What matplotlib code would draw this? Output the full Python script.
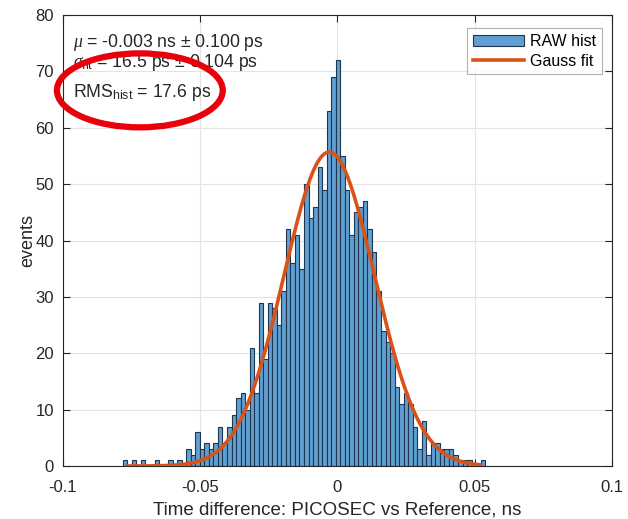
import numpy as np
import matplotlib
matplotlib.use("Agg")
import matplotlib.pyplot as plt
from matplotlib.patches import Ellipse

# Time-difference histogram (ns): 80 bins of 1.65 ps starting at -78.2 ps
bin_start = -0.0782
bin_width = 0.00165
counts = [
    1, 0, 1, 0, 1, 0, 0, 1, 0, 0,
    1, 0, 1, 0, 3, 2, 6, 3, 4, 3,
    4, 7, 4, 7, 9, 12, 13, 10, 21, 13,
    29, 19, 29, 28, 25, 31, 42, 36, 41, 35,
    50, 44, 46, 53, 49, 63, 69, 72, 55, 49,
    41, 45, 46, 47, 42, 38, 31, 24, 22, 20,
    14, 11, 13, 11, 7, 3, 8, 2, 4, 4,
    3, 3, 3, 2, 1, 1, 1, 0, 0, 1,
]

# Gaussian fit parameters
fit_mu = -0.003      # ns
fit_sigma = 0.0165   # ns
fit_amp = 55.7       # events

stat_lines = [
    r"$\mu$ = -0.003 ns $\pm$ 0.100 ps",
    r"$\sigma_{\mathrm{fit}}$ = 16.5 ps $\pm$ 0.104 ps",
    r"RMS$_{\mathrm{hist}}$ = 17.6 ps",
]
stat_baselines = [0.929, 0.885, 0.818]  # axes fraction

x_ticks = [-0.1, -0.05, 0, 0.05, 0.1]
x_tick_labels = ["-0.1", "-0.05", "0", "0.05", "0.1"]
y_ticks = [0, 10, 20, 30, 40, 50, 60, 70, 80]

plt.rcParams["font.family"] = ["Liberation Sans", "DejaVu Sans"]
plt.rcParams["mathtext.fontset"] = "custom"
plt.rcParams["mathtext.rm"] = "Liberation Sans"
plt.rcParams["mathtext.it"] = "Liberation Serif:italic"

fig = plt.figure(figsize=(6.28, 5.19), dpi=100)
ax = fig.add_axes([0.1003, 0.1021, 0.8742, 0.8689])

edges = bin_start + bin_width * np.arange(len(counts) + 1)
centers = 0.5 * (edges[:-1] + edges[1:])
ax.hist(centers, bins=edges, weights=counts, color="#5f9fd2",
        edgecolor="#1f3550", linewidth=0.8, label="RAW hist", zorder=2)

xf = np.linspace(edges[0] + bin_width, edges[-1] - bin_width, 400)
yf = fit_amp * np.exp(-0.5 * ((xf - fit_mu) / fit_sigma) ** 2)
ax.plot(xf, yf, color="#d95319", linewidth=2.6, label="Gauss fit", zorder=3)

ax.set_xlim(-0.1, 0.1)
ax.set_ylim(0, 80)
ax.set_xticks(x_ticks)
ax.set_xticklabels(x_tick_labels)
ax.set_yticks(y_ticks)
ax.grid(True, color="#e3e3e3", linewidth=0.8, zorder=0)
ax.set_axisbelow(True)
ax.tick_params(direction="in", top=True, right=True, length=5,
               labelsize=12, colors="#262626", width=0.8)
ax.tick_params(axis="x", pad=10)
ax.tick_params(axis="y", pad=6.5)
for s in ax.spines.values():
    s.set_color("#262626")
    s.set_linewidth(0.8)

ax.set_xlabel("Time difference: PICOSEC vs Reference, ns", fontsize=13.5,
              color="#262626", labelpad=5)
ax.set_ylabel("events", fontsize=13, color="#262626", labelpad=-1)

for line, yb in zip(stat_lines, stat_baselines):
    ax.text(0.018, yb, line, transform=ax.transAxes,
            fontsize=12.7, color="#262626", va="baseline", ha="left", zorder=5)

leg = ax.legend(loc="upper right", fontsize=11.5, frameon=True, fancybox=False,
                edgecolor="#a0a0a0", handlelength=3.2, borderpad=0.35,
                labelspacing=0.3, handletextpad=0.4, borderaxespad=0.0,
                bbox_to_anchor=(0.982, 0.971))
leg.get_frame().set_linewidth(0.8)

ell = Ellipse((0.140, 0.833), width=0.302, height=0.164,
              transform=ax.transAxes, fill=False, edgecolor="#e8000b",
              linewidth=4.5, clip_on=False, zorder=6)
ax.add_patch(ell)

fig.savefig("out.png", dpi=100, facecolor="white")
